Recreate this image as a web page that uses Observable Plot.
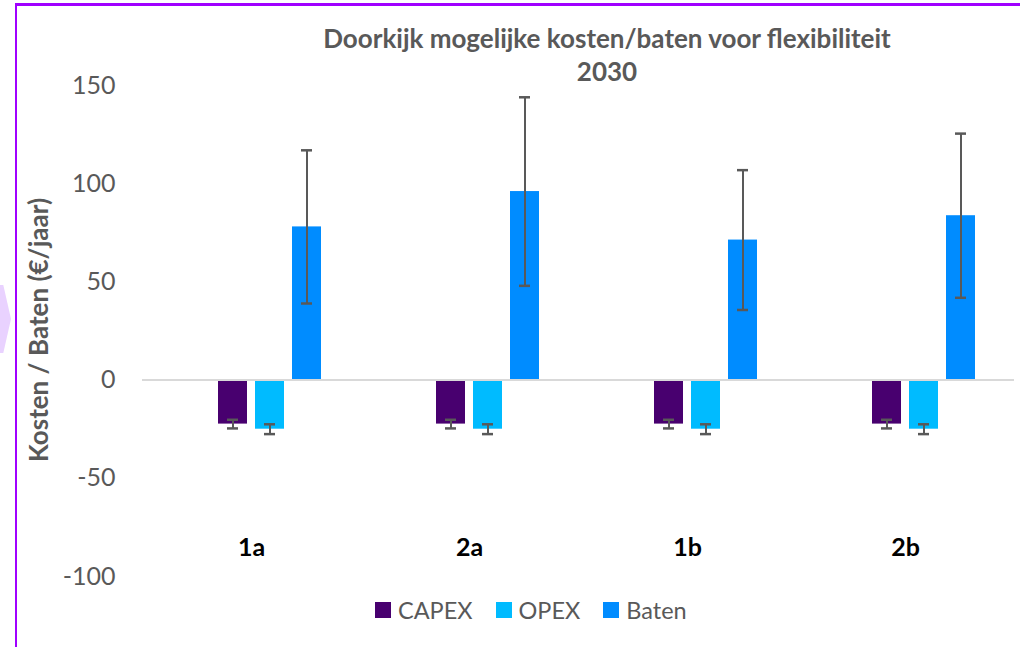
<!DOCTYPE html>
<html>
<head>
<meta charset="utf-8">
<script src="https://cdn.jsdelivr.net/npm/d3@7"></script>
<script src="https://cdn.jsdelivr.net/npm/@observablehq/plot@0.6"></script>
<style>
  html, body { margin: 0; padding: 0; background: #fff; }
  body { width: 1020px; height: 647px; overflow: hidden; position: relative; font-family: Lato, "Open Sans", sans-serif; }
  #frame { position: absolute; left: 15px; top: 3px; width: 1100px; height: 700px; border-left: 2px solid #A000FF; border-top: 3px solid #A000FF; }
  #chevron { position: absolute; left: 0; top: 285px; width: 11px; height: 68px; background: #E9D2FF; clip-path: polygon(0 0, 30% 0, 100% 50%, 30% 100%, 0 100%); }
  #chart { position: absolute; left: 0; top: 0; }
  #title { position: absolute; left: 607px; top: 22px; transform: translateX(-50%); text-align: center; white-space: nowrap; font-weight: bold; font-size: 26px; line-height: 33px; color: #595959; }
  #ylabel { position: absolute; left: 38px; top: 330px; transform: translate(-50%, -50%) rotate(-90deg); white-space: nowrap; font-weight: bold; font-size: 26px; color: #595959; }
  #legend { position: absolute; left: 375px; top: 596px; }
  #legend .lg-swatches { font-family: Lato, "Open Sans", sans-serif; font-size: 23.5px; color: #595959; margin: 0; min-height: 0; display: flex; align-items: center; }
  #legend .lg-swatch { margin-right: 23px; display: inline-flex; align-items: center; }
  #legend .lg-swatch > svg { margin-right: 7px; }
</style>
</head>
<body>
<div id="frame"></div>
<div id="chevron"></div>
<div id="chart"></div>
<div id="title">Doorkijk mogelijke kosten/baten voor flexibiliteit<br>2030</div>
<div id="ylabel">Kosten / Baten (€/jaar)</div>
<div id="legend"></div>
<script>
// --- data ---
const categories = ["1a", "2a", "1b", "2b"];
const series = ["CAPEX", "OPEX", "Baten"];
const capex = [-22.4, -22.4, -22.4, -22.4];
const opex = [-25, -25, -25, -25];
const baten = [78, 96, 71.3, 83.7];
const capexErr = [2.2, 2.2, 2.2, 2.2];
const opexErr = [2.5, 2.5, 2.5, 2.5];
const batenErr = [39, 48, 35.6, 41.8];
const yTicks = [-100, -50, 0, 50, 100, 150];
const colors = ["#48006F", "#00BBFF", "#008CFF"];

const valuesBySeries = {CAPEX: capex, OPEX: opex, Baten: baten};
const errBySeries = {CAPEX: capexErr, OPEX: opexErr, Baten: batenErr};
const rows = [];
categories.forEach((c, i) => {
  series.forEach(s => {
    const v = valuesBySeries[s][i], e = errBySeries[s][i];
    rows.push({cat: c, series: s, value: v, lo: v - e, hi: v + e});
  });
});

const chart = Plot.plot({
  width: 1020,
  height: 600,
  marginTop: 85,
  marginBottom: 24,
  marginLeft: 140,
  marginRight: 5,
  style: {fontFamily: "Lato, 'Open Sans', sans-serif", fontSize: "25px", color: "#595959", background: "transparent"},
  fx: {domain: categories, padding: 0, axis: null, label: null},
  x: {domain: series, paddingInner: 0.21, paddingOuter: 0, insetLeft: 75, insetRight: 37.75, axis: null},
  y: {domain: [-100, 150], ticks: yTicks, tickSize: 0, tickPadding: 27, tickFormat: d => String(d), label: null},
  color: {domain: series, range: colors},
  marks: [
    Plot.barY(rows, {fx: "cat", x: "series", y: "value", fill: "series"}),
    Plot.ruleY([0], {stroke: "#D9D9D9", strokeWidth: 2}),
    Plot.ruleX(rows, {fx: "cat", x: "series", y1: "lo", y2: "hi", stroke: "#595959", strokeWidth: 2}),
    Plot.tickY(rows, {fx: "cat", x: "series", y: "lo", stroke: "#595959", strokeWidth: 2.5, insetLeft: 9, insetRight: 9}),
    Plot.tickY(rows, {fx: "cat", x: "series", y: "hi", stroke: "#595959", strokeWidth: 2.5, insetLeft: 9, insetRight: 9}),
    Plot.text(categories, {fx: d => d, text: d => d, frameAnchor: "bottom", dy: -21, fontWeight: "bold", fontSize: 25, fill: "#000"})
  ]
});
document.getElementById("chart").appendChild(chart);

const legend = chart.legend("color", {className: "lg", swatchSize: 16});
document.getElementById("legend").appendChild(legend);
</script>
</body>
</html>
